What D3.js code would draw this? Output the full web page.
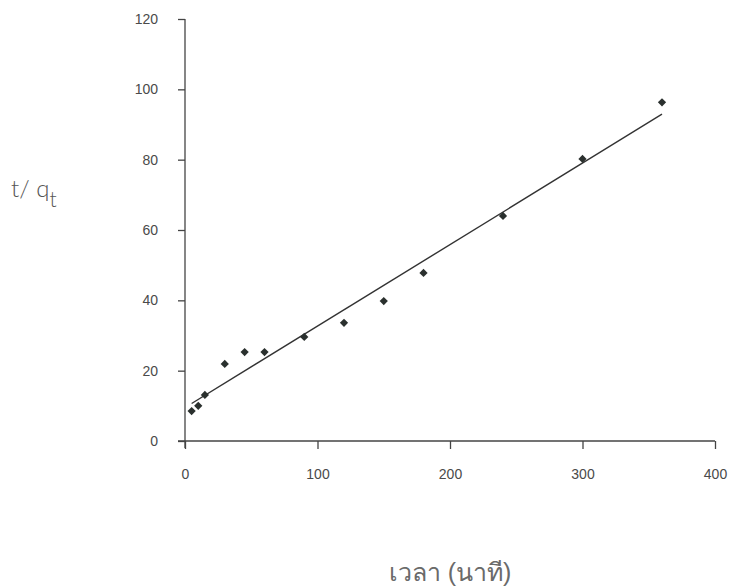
<!DOCTYPE html>
<html>
<head>
<meta charset="utf-8">
<script src="https://cdn.jsdelivr.net/npm/d3@7"></script>
<style>
  html, body { margin: 0; padding: 0; background: #fff; }
  svg { display: block; }
  .tick text { font-family: "Liberation Sans", Arial, sans-serif; font-size: 14px; fill: #4a4a4a; }
  .title { font-family: "Lato", "Open Sans", sans-serif; font-weight: 300; fill: #555; }
  .title-th { font-family: sans-serif; font-weight: 300; fill: #6a6a6a; }
</style>
</head>
<body>
<svg id="chart" width="734" height="587"></svg>
<script>
// Time (minutes) and t/qt values
const times = [5, 10, 15, 30, 45, 60, 90, 120, 150, 180, 240, 300, 360];
const tOverQ = [8.5, 10.0, 13.1, 21.9, 25.3, 25.3, 29.6, 33.6, 39.8, 47.8, 64.0, 80.2, 96.3];
const xTicks = [0, 100, 200, 300, 400];
const yTicks = [0, 20, 40, 60, 80, 100, 120];

const svg = d3.select("#chart");
const margin = { left: 185, right: 19, top: 19, bottom: 146 };
const W = 734, H = 587;

const x = d3.scaleLinear().domain([0, 400]).range([margin.left, W - margin.right]);
const y = d3.scaleLinear().domain([0, 120]).range([H - margin.bottom, margin.top]);

const axisColor = "#444";

// X axis
const gx = svg.append("g")
  .attr("transform", `translate(0,${y(0)})`)
  .call(d3.axisBottom(x).tickValues(xTicks).tickSize(8).tickPadding(20).tickSizeOuter(0));
gx.select(".domain").attr("stroke", axisColor).attr("stroke-width", 1.3)
  .attr("d", `M${x(0) - 7},0H${x(400)}`);
gx.selectAll(".tick line").attr("stroke", axisColor).attr("stroke-width", 1.3);

// Y axis
const gy = svg.append("g")
  .attr("transform", `translate(${x(0)},0)`)
  .call(d3.axisLeft(y).tickValues(yTicks).tickSize(7).tickPadding(20).tickSizeOuter(0));
gy.select(".domain").attr("stroke", axisColor).attr("stroke-width", 1.3)
  .attr("d", `M0,${y(120)}V${y(0) + 7}`);
gy.selectAll(".tick line").attr("stroke", axisColor).attr("stroke-width", 1.3);

// Least-squares fit of t/qt against time
const n = times.length;
const mx = d3.mean(times), my = d3.mean(tOverQ);
let sxy = 0, sxx = 0;
for (let i = 0; i < n; i++) {
  sxy += (times[i] - mx) * (tOverQ[i] - my);
  sxx += (times[i] - mx) ** 2;
}
const slope = sxy / sxx, intercept = my - slope * mx;
const x0 = d3.min(times), x1 = d3.max(times);

svg.append("line")
  .attr("x1", x(x0)).attr("y1", y(intercept + slope * x0))
  .attr("x2", x(x1)).attr("y2", y(intercept + slope * x1))
  .attr("stroke", "#333").attr("stroke-width", 1.4);

// Diamond markers: a square turned 45 degrees
const diamond = d3.symbol().type(d3.symbolSquare).size(34);
svg.append("g").selectAll("path")
  .data(times.map((t, i) => [t, tOverQ[i]]))
  .join("path")
  .attr("d", diamond)
  .attr("transform", d => `translate(${x(d[0])},${y(d[1])}) rotate(45)`)
  .attr("fill", "#2a302e");

// Axis titles
const yt = svg.append("text").attr("class", "title")
  .attr("x", 11).attr("y", 197).style("font-size", "24px");
yt.append("tspan").text("t/ q");
yt.append("tspan").attr("dy", 10).style("font-size", "21px").text("t");

svg.append("text").attr("class", "title-th")
  .attr("x", 450).attr("y", 581).attr("text-anchor", "middle")
  .style("font-size", "25px")
  .text("เวลา (นาที)");
</script>
</body>
</html>
